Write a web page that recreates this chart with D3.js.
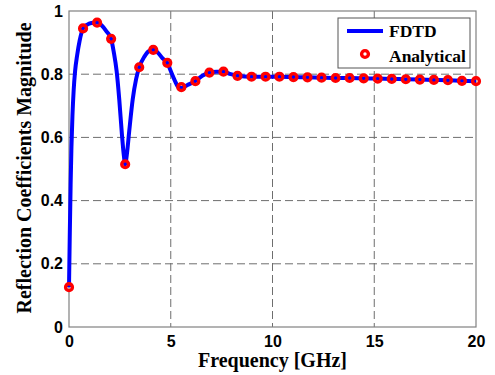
<!DOCTYPE html>
<html>
<head>
<meta charset="utf-8">
<script src="https://cdn.jsdelivr.net/npm/d3@7"></script>
<style>
  body { margin: 0; background: #fff; }
  .tick text { font-family: "Liberation Sans", Arial, sans-serif; font-weight: bold; font-size: 16px; fill: #000; }
</style>
</head>
<body>
<div id="chart"></div>
<script>
// FDTD curve (dense) and analytical samples
var fdtdFreq = [0, 0.04, 0.08, 0.12, 0.17, 0.23, 0.3, 0.4, 0.52, 0.69, 0.9, 1.1, 1.38, 1.6, 1.85,
                2.07, 2.2, 2.34, 2.47, 2.6, 2.7, 2.76, 2.85, 2.96, 3.13, 3.3, 3.45, 3.7, 3.9, 4.14,
                4.4, 4.6, 4.83, 5.0, 5.2, 5.4, 5.52, 5.8, 6.21, 6.55, 6.9, 7.25, 7.59, 7.95, 8.28,
                8.97, 9.66, 10.34, 11.03, 11.72, 12.41, 13.10, 13.79, 14.48, 15.17, 15.86, 16.55,
                17.24, 17.93, 18.62, 19.31, 20];
var fdtdMag = [0.126, 0.30, 0.45, 0.57, 0.67, 0.75, 0.81, 0.86, 0.905, 0.945, 0.957, 0.962, 0.964, 0.955, 0.935,
               0.912, 0.87, 0.81, 0.72, 0.61, 0.54, 0.515, 0.55, 0.62, 0.72, 0.785, 0.822, 0.855, 0.872, 0.877,
               0.866, 0.85, 0.836, 0.81, 0.78, 0.757, 0.756, 0.765, 0.778, 0.795, 0.805, 0.808, 0.808, 0.80, 0.795,
               0.792, 0.792, 0.792, 0.791, 0.790, 0.789, 0.788, 0.788, 0.787, 0.786, 0.785, 0.784,
               0.783, 0.782, 0.781, 0.779, 0.778];

var anaFreq = [0, 0.69, 1.38, 2.07, 2.76, 3.45, 4.14, 4.83, 5.52, 6.21, 6.90, 7.59, 8.28, 8.97, 9.66,
               10.34, 11.03, 11.72, 12.41, 13.10, 13.79, 14.48, 15.17, 15.86, 16.55, 17.24, 17.93, 18.62, 19.31, 20];
var anaMag = [0.126, 0.945, 0.963, 0.912, 0.515, 0.822, 0.877, 0.836, 0.759, 0.778, 0.805, 0.808, 0.795, 0.792, 0.792,
              0.792, 0.791, 0.790, 0.789, 0.788, 0.788, 0.787, 0.786, 0.785, 0.784, 0.783, 0.782, 0.781, 0.779, 0.778];

var xTicks = [0, 5, 10, 15, 20];
var yTicks = [0, 0.2, 0.4, 0.6, 0.8, 1];
var seriesNames = ["FDTD", "Analytical"];

var margin = { top: 11, right: 19, bottom: 48, left: 69 };
var svgW = 495, svgH = 375;
var w = svgW - margin.left - margin.right;
var h = svgH - margin.top - margin.bottom;

var svg = d3.select("#chart").append("svg")
    .attr("width", svgW).attr("height", svgH);

var g = svg.append("g")
    .attr("transform", `translate(${margin.left}, ${margin.top})`);

var x = d3.scaleLinear().domain([0, 20]).range([0, w]);
var y = d3.scaleLinear().domain([0, 1]).range([h, 0]);

// dashed grid
g.selectAll(".gx").data(xTicks.slice(1, -1)).enter().append("line")
    .attr("x1", d => x(d)).attr("x2", d => x(d)).attr("y1", 0).attr("y2", h)
    .attr("stroke", "#6e6e6e").attr("stroke-dasharray", "8,4");
g.selectAll(".gy").data(yTicks.slice(1, -1)).enter().append("line")
    .attr("y1", d => y(d)).attr("y2", d => y(d)).attr("x1", 0).attr("x2", w)
    .attr("stroke", "#6e6e6e").attr("stroke-dasharray", "8,4");

// axes
var xAxis = d3.axisBottom(x).tickValues(xTicks).tickSize(0).tickPadding(9).tickFormat(d3.format("d"));
var yAxis = d3.axisLeft(y).tickValues(yTicks).tickSize(0).tickPadding(6).tickFormat(d => d3.format("")(d));

g.append("g").attr("transform", `translate(0, ${h})`).call(xAxis).select(".domain").remove();
g.append("g").call(yAxis).select(".domain").remove();

g.append("rect").attr("width", w).attr("height", h)
    .attr("fill", "none").attr("stroke", "#808080").attr("stroke-width", 1.2);

// FDTD line
var fdtd = fdtdFreq.map((f, i) => ({ f: f, m: fdtdMag[i] }));
var line = d3.line().x(d => x(d.f)).y(d => y(d.m)).curve(d3.curveMonotoneX);
g.append("path").datum(fdtd)
    .attr("d", line).attr("fill", "none")
    .attr("stroke", "#0000ff").attr("stroke-width", 4).attr("stroke-linejoin", "round");

// analytical markers
var ana = anaFreq.map((f, i) => ({ f: f, m: anaMag[i] }));
g.selectAll("circle.ana").data(ana).enter().append("circle")
    .attr("cx", d => x(d.f)).attr("cy", d => y(d.m))
    .attr("r", 3.4).attr("fill", "none")
    .attr("stroke", "#ff0000").attr("stroke-width", 3.4);

// legend
var lg = svg.append("g").attr("transform", "translate(338, 18)");
lg.append("rect").attr("width", 132).attr("height", 50)
    .attr("fill", "#fff").attr("stroke", "#555").attr("stroke-width", 1);
lg.append("line").attr("x1", 9).attr("x2", 45).attr("y1", 13).attr("y2", 13)
    .attr("stroke", "#0000ff").attr("stroke-width", 4);
lg.append("circle").attr("cx", 27).attr("cy", 36).attr("r", 3.4)
    .attr("fill", "#fff").attr("stroke", "#ff0000").attr("stroke-width", 3.4);
lg.selectAll("text").data(seriesNames).enter().append("text")
    .attr("x", 51).attr("y", (d, i) => 19 + i * 24.5)
    .attr("font-family", "'Liberation Serif', 'Times New Roman', serif")
    .attr("font-weight", "bold").attr("font-size", 17.5)
    .text(d => d);

// axis titles
svg.append("text")
    .attr("x", margin.left + w / 2).attr("y", 367)
    .attr("text-anchor", "middle")
    .attr("font-family", "'Liberation Serif', 'Times New Roman', serif")
    .attr("font-weight", "bold").attr("font-size", 20)
    .text("Frequency [GHz]");

svg.append("text")
    .attr("transform", "translate(31, 168) rotate(-90)")
    .attr("text-anchor", "middle")
    .attr("font-family", "'Liberation Serif', 'Times New Roman', serif")
    .attr("font-weight", "bold").attr("font-size", 20)
    .text("Reflection Coefficients Magnitude");
</script>
</body>
</html>
